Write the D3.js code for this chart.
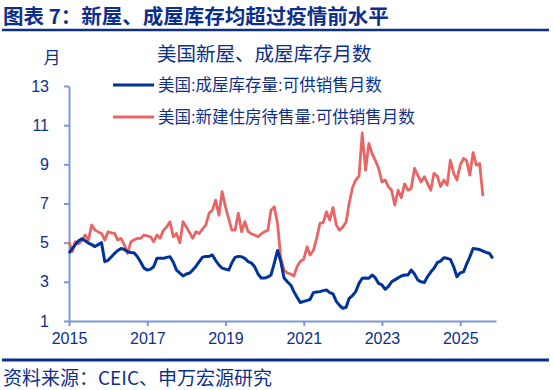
<!DOCTYPE html>
<html>
<head>
<meta charset="utf-8">
<script src="https://cdn.jsdelivr.net/npm/d3@7"></script>
<style>
  body { margin: 0; background: #fff; }
  svg text { font-family: "Liberation Sans", "Noto Sans CJK SC", sans-serif; }
</style>
</head>
<body>
<div class="chart-container"></div>
<script>
// 美国:成屋库存量:可供销售月数 (monthly, Jan 2015 - Nov 2025)
var existingSupply = [
  4.47, 4.7, 4.9, 5.1, 5.2, 5.1, 4.98, 4.9, 4.8, 4.9, 5.0, 4.03,
  4.1, 4.28, 4.45, 4.6, 4.7, 4.65, 4.54, 4.5, 4.47, 4.28, 4.0, 3.7,
  3.6, 3.65, 3.77, 4.2, 4.2, 4.2, 4.25, 4.28, 4.0, 3.6, 3.45, 3.3,
  3.4, 3.45, 3.6, 3.8, 4.03, 4.26, 4.3, 4.3, 4.37, 4.1, 3.86, 3.7,
  3.65, 3.6, 3.96, 4.25, 4.3, 4.28, 4.2, 4.03, 3.96, 3.77, 3.4, 3.19,
  3.19, 3.25, 3.35, 3.96, 4.6, 4.03, 3.2, 3.0, 2.84, 2.5, 2.2, 1.94,
  2.0, 2.05, 2.1, 2.45, 2.48, 2.5, 2.55, 2.58, 2.45, 2.38, 2.0, 1.8,
  1.65, 1.7, 2.16, 2.3, 2.5, 2.92, 3.18, 3.2, 3.18, 3.35, 3.2, 2.92,
  2.84, 2.62, 2.75, 3.0, 3.1, 3.2, 3.3, 3.35, 3.35, 3.6, 3.4, 3.1,
  3.0, 2.97, 3.26, 3.5, 3.69, 3.98, 4.06, 4.23, 4.2, 4.15, 3.77, 3.26,
  3.46, 3.51, 3.9, 4.28, 4.7, 4.68, 4.65, 4.57, 4.5, 4.45, 4.2
];

// 美国:新建住房待售量:可供销售月数 (monthly, Jan 2015 - Aug 2025)
var newSupply = [
  5.05, 4.54, 5.05, 4.95, 5.1, 5.39, 5.13, 5.9, 5.64, 5.55, 5.47, 5.13,
  5.56, 5.5, 5.47, 5.13, 5.22, 4.88, 4.45, 5.05, 5.15, 5.22, 5.22, 5.39,
  5.35, 5.3, 5.05, 5.39, 5.22, 5.64, 5.8, 6.07, 5.3, 5.47, 5.0, 6.07,
  5.8, 5.5, 5.22, 5.56, 5.47, 5.7, 5.9, 6.5, 6.66, 7.17, 6.4, 7.6,
  6.83, 6.2, 5.64, 5.64, 6.5, 5.56, 6.07, 5.56, 5.45, 5.39, 5.3, 5.45,
  5.56, 5.64, 6.66, 6.83, 5.98, 4.2, 3.6, 3.45, 3.4, 3.3, 3.8, 4.05,
  4.15, 4.79, 4.37, 4.6, 5.22, 5.98, 6.02, 6.58, 6.15, 6.8, 5.9, 5.64,
  5.8, 6.07, 7.0, 7.8, 8.2, 8.4, 10.6, 8.7, 10.07, 9.55, 9.2, 8.8,
  8.1, 8.2, 7.86, 7.68, 6.92, 7.68, 7.3, 8.0, 7.68, 7.77, 8.8, 8.45,
  8.1, 8.37, 8.03, 7.68, 8.54, 8.4, 7.86, 8.2, 7.94, 9.21, 8.54, 8.2,
  8.96, 9.3, 9.2, 8.45, 9.6, 8.96, 9.04, 7.38
];

var seriesNames = ["美国:成屋库存量:可供销售月数", "美国:新建住房待售量:可供销售月数"];
var yTicks = [1, 3, 5, 7, 9, 11, 13];
var xTickYears = [2015, 2017, 2019, 2021, 2023, 2025];

var W = 553, H = 390;
var navy = "#0d2f8c", axisColor = "#7b98d6";
var blue = "#003399", red = "#e96464";

function toSeries(values) {
  return values.map(function (v, i) {
    return { date: new Date(2015, i, 1), val: v };
  });
}

var svg = d3.select(".chart-container").append("svg")
  .attr("width", W).attr("height", H);

// title + rules
svg.append("text")
  .attr("x", 3).attr("y", 24)
  .attr("fill", navy)
  .style("font-family", "'Noto Sans CJK SC', sans-serif")
  .style("font-weight", "bold")
  .style("font-size", "20.5px")
  .text("图表 7：新屋、成屋库存均超过疫情前水平");

svg.append("line").attr("x1", 2).attr("x2", 549).attr("y1", 30).attr("y2", 30)
  .attr("stroke", navy).attr("stroke-width", 2.5);
svg.append("line").attr("x1", 2).attr("x2", 549).attr("y1", 360).attr("y2", 360)
  .attr("stroke", navy).attr("stroke-width", 3);

svg.append("text")
  .attr("x", 3).attr("y", 385)
  .attr("fill", navy)
  .style("font-family", "'Noto Sans CJK SC', sans-serif")
  .style("font-size", "19px")
  .text("资料来源：CEIC、申万宏源研究");

// scales
var x = d3.scaleTime()
  .domain([new Date(2015, 0, 1), new Date(2025, 11, 1)])
  .range([69, 496]);
var y = d3.scaleLinear().domain([1, 13]).range([321, 86]);

// axes
var yAxis = svg.append("g")
  .attr("transform", "translate(69,0)")
  .call(d3.axisLeft(y).tickValues(yTicks).tickSize(5).tickSizeOuter(0).tickPadding(15));
var xAxis = svg.append("g")
  .attr("transform", "translate(0,321)")
  .call(d3.axisBottom(x)
    .tickValues(xTickYears.map(function (yr) { return new Date(yr, 0, 1); }))
    .tickFormat(d3.timeFormat("%Y"))
    .tickSize(5).tickSizeOuter(0).tickPadding(7));

[yAxis, xAxis].forEach(function (g) {
  g.select(".domain").attr("stroke", axisColor).attr("stroke-width", 2);
  g.selectAll(".tick line").attr("stroke", axisColor).attr("stroke-width", 2);
  g.selectAll(".tick text").attr("fill", navy).style("font-size", "16px");
});

svg.append("text")
  .attr("x", 52).attr("y", 64)
  .attr("text-anchor", "middle")
  .attr("fill", navy)
  .style("font-size", "17px")
  .text("月");

// lines
var line = d3.line()
  .x(function (d) { return x(d.date); })
  .y(function (d) { return y(d.val); });

svg.append("path").datum(toSeries(newSupply))
  .attr("fill", "none").attr("stroke", red).attr("stroke-width", 2.8)
  .attr("stroke-linejoin", "round")
  .attr("d", line);

svg.append("path").datum(toSeries(existingSupply))
  .attr("fill", "none").attr("stroke", blue).attr("stroke-width", 3)
  .attr("stroke-linejoin", "round")
  .attr("d", line);

// legend
var legend = svg.append("g");
legend.append("text")
  .attr("x", 157).attr("y", 61)
  .attr("fill", navy)
  .style("font-size", "19.5px")
  .text("美国新屋、成屋库存月数");

var items = legend.selectAll(".item")
  .data([{ name: seriesNames[0], color: blue }, { name: seriesNames[1], color: red }])
  .enter().append("g")
  .attr("class", "item")
  .attr("transform", function (d, i) { return "translate(113," + (85 + i * 32) + ")"; });

items.append("line")
  .attr("x1", 0).attr("x2", 41)
  .attr("stroke", function (d) { return d.color; })
  .attr("stroke-width", 3);
items.append("text")
  .attr("x", 45).attr("y", 6)
  .attr("fill", navy)
  .style("font-size", "16.5px")
  .text(function (d) { return d.name; });
</script>
</body>
</html>
